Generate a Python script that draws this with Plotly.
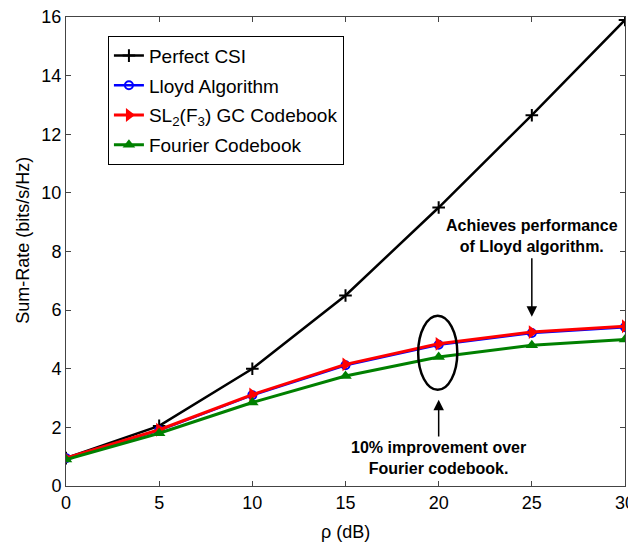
import plotly.graph_objects as go

rho_db = [0, 5, 10, 15, 20, 25, 30]
perfect_csi = [0.95, 2.05, 4.0, 6.5, 9.5, 12.65, 15.9]
lloyd = [0.95, 1.9, 3.1, 4.12, 4.82, 5.22, 5.42]
sl2_gc = [0.95, 1.92, 3.12, 4.15, 4.85, 5.25, 5.45]
fourier = [0.9, 1.8, 2.85, 3.75, 4.4, 4.8, 5.0]

x_ticks = [0, 5, 10, 15, 20, 25, 30]
y_ticks = [0, 2, 4, 6, 8, 10, 12, 14, 16]

fig = go.Figure()
fig.add_trace(go.Scatter(x=rho_db, y=perfect_csi, mode="lines+markers", name="Perfect CSI",
                         legendgroup="a",
                         line=dict(color="black", width=2.5),
                         marker=dict(symbol="cross-thin", size=9, line=dict(color="black", width=2))))
fig.add_trace(go.Scatter(x=rho_db, y=lloyd, mode="lines+markers", name="Lloyd Algorithm",
                         legendgroup="b",
                         line=dict(color="blue", width=2.5),
                         marker=dict(symbol="circle-open", size=8, line=dict(color="blue", width=2))))
fig.add_trace(go.Scatter(x=rho_db, y=sl2_gc, mode="lines+markers",
                         name="SL<sub>2</sub>(F<sub>3</sub>) GC Codebook", legendgroup="c",
                         line=dict(color="red", width=3),
                         marker=dict(symbol="triangle-right", size=12, color="red")))
fig.add_trace(go.Scatter(x=rho_db, y=fourier, mode="lines+markers", name="Fourier Codebook",
                         legendgroup="d",
                         line=dict(color="green", width=3),
                         marker=dict(symbol="triangle-up", size=11, color="green")))

# ellipse around the x=20 points
fig.add_shape(type="circle", xref="x", yref="y", x0=18.9, x1=21.0, y0=3.28, y1=5.81,
              line=dict(color="black", width=2.5))

# annotations
fig.add_annotation(x=25, y=5.77, ax=25, ay=7.82, xref="x", yref="y", axref="x", ayref="y",
                   showarrow=True, arrowhead=2, arrowsize=1.4, arrowwidth=1.5, arrowcolor="black", text="")
fig.add_annotation(x=25.0, y=8.53, xref="x", yref="y", showarrow=False,
                   text="<b>Achieves performance<br>of Lloyd algorithm.</b>",
                   font=dict(family="Arial", size=16, color="black"), align="center")
fig.add_annotation(x=20, y=2.94, ax=20, ay=1.64, xref="x", yref="y", axref="x", ayref="y",
                   showarrow=True, arrowhead=2, arrowsize=1.4, arrowwidth=1.5, arrowcolor="black", text="")
fig.add_annotation(x=20, y=0.94, xref="x", yref="y", showarrow=False,
                   text="<b>10% improvement over<br>Fourier codebook.</b>",
                   font=dict(family="Arial", size=16, color="black"), align="center")

# axis titles
fig.add_annotation(x=0.5, y=-0.098, xref="paper", yref="paper", showarrow=False,
                   text="ρ (dB)", font=dict(family="Arial", size=18, color="black"),
                   xanchor="center", yanchor="middle")
fig.add_annotation(x=-0.077, y=0.525, xref="paper", yref="paper", showarrow=False,
                   text="Sum-Rate (bits/s/Hz)", textangle=-90,
                   font=dict(family="Arial", size=18, color="black"),
                   xanchor="center", yanchor="middle")

axis_common = dict(showgrid=False, zeroline=False, showline=True, linecolor="#444", linewidth=1,
                   mirror="ticks", ticks="inside", ticklen=5, tickcolor="#444", automargin=False,
                   ticklabeloverflow="allow",
                   tickfont=dict(family="Arial", size=18, color="black"))
fig.update_xaxes(range=[0, 30], tickvals=x_ticks, **axis_common)
fig.update_yaxes(range=[0, 16], tickvals=y_ticks, **axis_common)

fig.update_layout(
    width=636, height=535,
    margin=dict(l=58, r=19, t=9, b=57),
    plot_bgcolor="white", paper_bgcolor="white",
    showlegend=True,
    legend=dict(x=0.075, y=0.96, xanchor="left", yanchor="top",
                bgcolor="white", bordercolor="black", borderwidth=1,
                font=dict(family="Arial", size=19, color="black"),
                tracegroupgap=2),
)

fig.write_html("out.html")
